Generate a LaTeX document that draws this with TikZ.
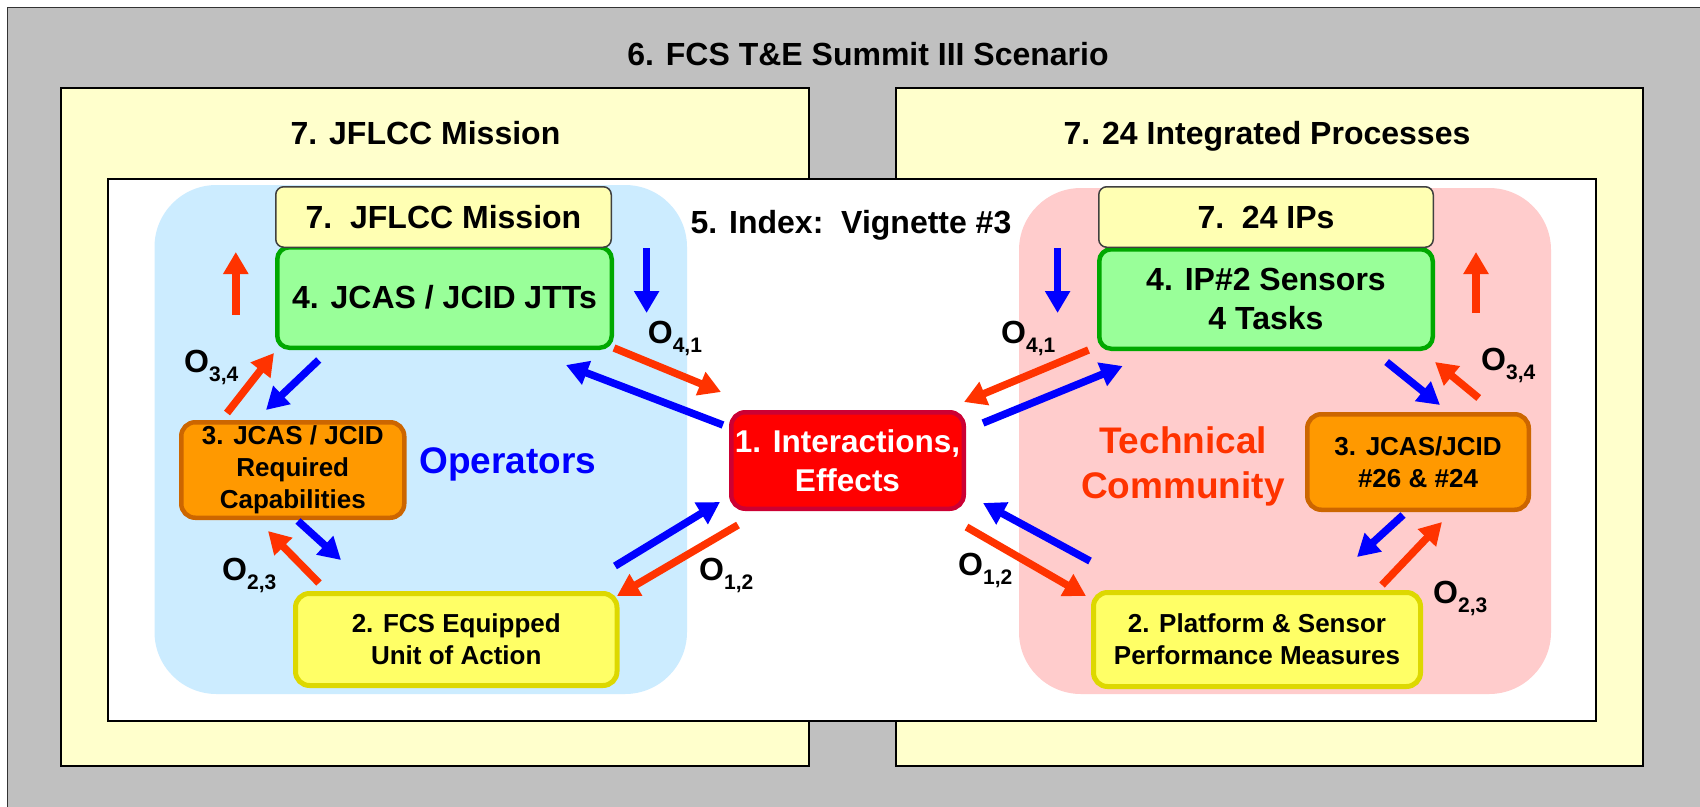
\documentclass[tikz,border=0pt]{standalone}
\usepackage{fontspec}
\setmainfont{Liberation Sans}
\usetikzlibrary{arrows.meta}
\definecolor{frgray}{HTML}{C0C0C0}
\definecolor{lyellow}{HTML}{FFFFCC}
\definecolor{tyellow}{HTML}{FFFFB3}
\definecolor{regblue}{HTML}{CCECFF}
\definecolor{regpink}{HTML}{FFCCCC}
\definecolor{gfill}{HTML}{99FF99}
\definecolor{gline}{HTML}{00A800}
\definecolor{ofill}{HTML}{FF9900}
\definecolor{oline}{HTML}{CC6600}
\definecolor{rfill}{HTML}{FF0000}
\definecolor{rline}{HTML}{CC0033}
\definecolor{yfill}{HTML}{FFFF66}
\definecolor{yline}{HTML}{DDD800}
\definecolor{ablue}{HTML}{0000FF}
\definecolor{ared}{HTML}{FF3300}
\newcommand\myfs[2]{\fontsize{#1}{#2}\selectfont\bfseries}
\begin{document}
\begin{tikzpicture}[x=1pt,y=-1pt,
  frame/.style={draw=black,line width=2pt},
  title/.style={anchor=base,inner sep=0pt,font=\myfs{32}{38}},
  topbox/.style={draw=black!75,line width=1.5pt,fill=tyellow,rounded corners=8pt,minimum height=60.5pt,align=center,inner sep=0pt,font=\myfs{32}{38}},
  greenbox/.style={draw=gline,line width=4.5pt,fill=gfill,rounded corners=12pt,align=center,inner sep=0pt,font=\myfs{32}{38.5}},
  orangebox/.style={draw=oline,line width=4.5pt,fill=ofill,rounded corners=14pt,align=center,inner sep=0pt,font=\myfs{26}{32}},
  redbox/.style={draw=rline,line width=4.5pt,fill=rfill,text=white,rounded corners=14pt,align=center,inner sep=0pt,font=\myfs{31.5}{39}},
  ybox/.style={draw=yline,line width=5pt,fill=yfill,rounded corners=14pt,align=center,inner sep=0pt,font=\myfs{26}{31.7}},
  arr/.style={line width=7.5pt,-{Triangle[length=22pt,width=24pt]}},
  olab/.style={anchor=base west,inner sep=0pt,font=\myfs{32}{32}}
]
\useasboundingbox (0,0) rectangle (1700,806);
\fill[white] (0,0) rectangle (1700,806);
% frames
\draw[fill=frgray,draw=black!80,line width=1.5pt] (7.3,7.5) rectangle (1720,830);
\draw[frame,fill=lyellow] (60.7,88.3) rectangle (808.7,765.5);
\draw[frame,fill=lyellow] (896,88.3) rectangle (1643,765.5);
\draw[frame,fill=white] (108.4,179.3) rectangle (1596,720.5);
% titles
\node[title] (t6) at (868,65) {6. FCS T\&E Summit III Scenario};
\node[title] (t7l) at (425.5,144) {7. JFLCC Mission};
\node[title] (t7r) at (1267,144) {7. 24 Integrated Processes};
% regions
\fill[regblue,rounded corners=62pt] (154.5,185) rectangle (687,694);
\fill[regpink,rounded corners=62pt] (1019,188) rectangle (1551,694);
\node[title] (idx) at (851,233) {5. Index:\ \ Vignette \#3};
% left boxes
\node[greenbox,minimum width=334.5pt,minimum height=100.5pt] (g4l) at (444.5,297.5) {4. JCAS / JCID JTTs};
\node[topbox,minimum width=335.5pt] (m7l) at (443.5,217) {7.\ \ JFLCC Mission};
\node[orangebox,minimum width=223pt,minimum height=95.5pt] (o3l) at (292.75,470) {3. JCAS / JCID\\Required\\Capabilities};
\node[ybox,minimum width=321.5pt,minimum height=92pt] (y2l) at (456.25,639.5) {2. FCS Equipped\\Unit of Action};
\node[redbox,minimum width=232.5pt,minimum height=96.5pt] (r1) at (847.5,460.5) {1. Interactions,\\Effects};
\node[inner sep=0pt,text=ablue,font=\myfs{37}{44}] (ops) at (508,464) {Operators};
% right boxes
\node[greenbox,minimum width=333.5pt,minimum height=99.5pt] (g4r) at (1266,299) {4. IP\#2 Sensors\\4 Tasks};
\node[topbox,minimum width=334.5pt] (m7r) at (1266,217) {7.\ \ 24 IPs};
\node[orangebox,minimum width=221.5pt,minimum height=95.5pt] (o3r) at (1418,462) {3. JCAS/JCID\\\#26 \& \#24};
\node[ybox,minimum width=327pt,minimum height=94pt] (y2r) at (1257,639.5) {2. Platform \& Sensor\\Performance Measures};
\node[inner sep=0pt,text=ared,align=center,font=\myfs{37}{45}] (tc) at (1183,466) {Technical\\Community};
% arrows
\foreach \n/\xa/\ya/\xb/\yb/\c in {
  a1/235.8/315/235.8/252/ared,
  a2/646.6/248/646.6/313/ablue,
  a3/614/348/721/392/ared,
  a4/723/425/566/365/ablue,
  a5/227/413/274/353/ared,
  a6/318.7/360/266/410/ablue,
  a7/298/521/341/560/ablue,
  a8/319/583/268/531/ared,
  a9/615/566/720/502/ablue,
  a10/738/525/617/596/ared,
  b1/1057.6/248/1057.6/313/ablue,
  b2/1476/313/1476/252/ared,
  b3/1088.5/350/964/402/ared,
  b4/983/423/1122.6/366/ablue,
  b5/1386.6/362/1440/405/ablue,
  b6/1478.7/398/1435/362/ared,
  b7/1403/515/1357/557/ablue,
  b8/1382/585/1442/522/ared,
  b9/1090/561/983/503/ablue,
  b10/966.5/527/1086/596/ared}{
  \coordinate (\n s) at (\xa,\ya);
  \coordinate (\n e) at (\xb,\yb);
  \draw[arr,draw=\c,fill=\c] (\n s) -- (\n e);
}
% O labels
\node[olab] (o41l) at (647.7,343) {O\raisebox{-9pt}{\myfs{21}{21}4,1}};
\node[olab] (o34l) at (184,372) {O\raisebox{-9pt}{\myfs{21}{21}3,4}};
\node[olab] (o23l) at (222,580) {O\raisebox{-9pt}{\myfs{21}{21}2,3}};
\node[olab] (o12l) at (699,580) {O\raisebox{-9pt}{\myfs{21}{21}1,2}};
\node[olab] (o41r) at (1001,343) {O\raisebox{-9pt}{\myfs{21}{21}4,1}};
\node[olab] (o34r) at (1481,370) {O\raisebox{-9pt}{\myfs{21}{21}3,4}};
\node[olab] (o23r) at (1433,603) {O\raisebox{-9pt}{\myfs{21}{21}2,3}};
\node[olab] (o12r) at (958,575) {O\raisebox{-9pt}{\myfs{21}{21}1,2}};
\end{tikzpicture}
\end{document}
